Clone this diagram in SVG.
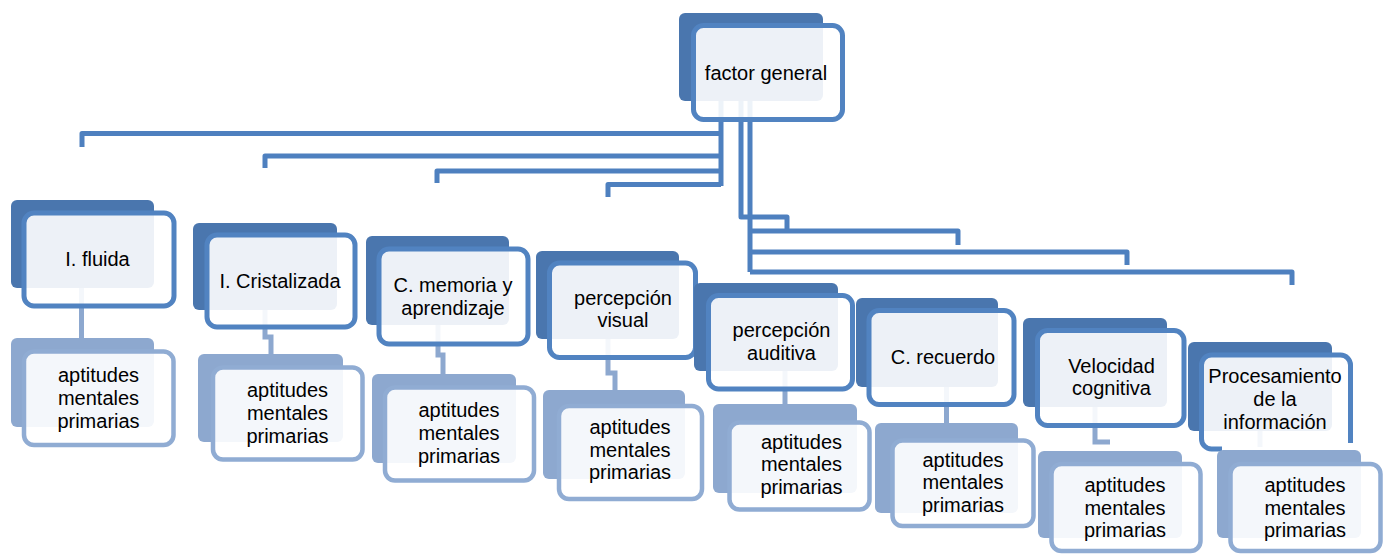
<svg xmlns="http://www.w3.org/2000/svg" width="1386" height="554" viewBox="0 0 1386 554">
  <style>
    .bk { fill: #4A76AE; }
    .fr { fill: #ffffff; fill-opacity: 0.9; stroke: #5183C1; stroke-width: 5; }
    .bk3 { fill: #8DA8CF; }
    .fr3 { fill: #ffffff; fill-opacity: 0.9; stroke: #90ACD3; stroke-width: 4.5; }
    .c2 { fill: none; stroke: #4E80BF; stroke-width: 5; stroke-linejoin: round; }
    .c3 { fill: none; stroke: #8DA8CF; stroke-width: 5; }
    text { font-family: "Liberation Sans", Arial, sans-serif; font-size: 20px; fill: #000000; text-anchor: middle; }
  </style>
  <rect width="1386" height="554" fill="#ffffff"/>

  <!-- connectors -->
  <g id="connectors">
    <path class="c2" d="M721,100 V186"/>
    <path class="c2" d="M721,133.5 H82 V147"/>
    <path class="c2" d="M721,156 H265 V168"/>
    <path class="c2" d="M721,171 H437 V183"/>
    <path class="c2" d="M721,184.5 H608 V197"/>
    <path class="c2" d="M741,100 V217 H787 V231"/>
    <path class="c2" d="M750,100 V272"/>
    <path class="c2" d="M750,231 H958 V245"/>
    <path class="c2" d="M750,252 H1127 V265"/>
    <path class="c2" d="M750,272 H1292 V285"/>

    <path class="c3" d="M81.5,288 V338"/>
    <path class="c3" d="M265,310 V337 H271 V354"/>
    <path class="c3" d="M438,325 V355 H443 V374"/>
    <path class="c3" d="M608,339 V373 H615 V390"/>
    <path class="c3" d="M785,371 V404"/>
    <path class="c3" d="M946.5,387 V423"/>
    <path class="c3" d="M1095,407 V442 H1110"/>
    <path class="c3" d="M1260,431 V447"/>
  </g>

  <!-- top level -->
  <g id="factor-general">
    <rect class="bk" x="679" y="13" width="144" height="88" rx="6"/>
    <rect class="fr" x="693.5" y="25.5" width="149" height="94" rx="10"/>
    <text x="766" y="80">factor general</text>
  </g>

  <!-- second level -->
  <g id="i-fluida">
    <rect class="bk" x="11" y="200" width="143" height="88" rx="6"/>
    <rect class="fr" x="24" y="213" width="150" height="93" rx="10"/>
    <text x="97.5" y="266">I. fluida</text>
  </g>
  <g id="i-cristalizada">
    <rect class="bk" x="193" y="223" width="144" height="87" rx="6"/>
    <rect class="fr" x="207" y="235" width="148" height="92" rx="10"/>
    <text x="280" y="287.5">I. Cristalizada</text>
  </g>
  <g id="c-memoria">
    <rect class="bk" x="366" y="236" width="143" height="89" rx="6"/>
    <rect class="fr" x="379" y="249" width="149" height="95" rx="10"/>
    <text x="453" y="292">C. memoria y</text>
    <text x="453" y="314.5">aprendizaje</text>
  </g>
  <g id="percepcion-visual">
    <rect class="bk" x="536" y="251" width="143" height="88" rx="6"/>
    <rect class="fr" x="549.5" y="263" width="146" height="94.5" rx="10"/>
    <text x="623" y="304.5">percepción</text>
    <text x="623" y="327">visual</text>
  </g>
  <g id="percepcion-auditiva">
    <rect class="bk" x="694" y="283" width="144" height="88" rx="6"/>
    <rect class="fr" x="708.5" y="295.5" width="144" height="93.5" rx="10"/>
    <text x="781.5" y="337">percepción</text>
    <text x="781.5" y="360">auditiva</text>
  </g>
  <g id="c-recuerdo">
    <rect class="bk" x="856" y="298" width="142" height="89" rx="6"/>
    <rect class="fr" x="869" y="310.5" width="145" height="94" rx="10"/>
    <text x="943" y="364">C. recuerdo</text>
  </g>
  <g id="velocidad-cognitiva">
    <rect class="bk" x="1023" y="318" width="144" height="89" rx="6"/>
    <rect class="fr" x="1037.5" y="330.5" width="146.5" height="95" rx="10"/>
    <text x="1111.5" y="372.5">Velocidad</text>
    <text x="1111.5" y="395">cognitiva</text>
  </g>
  <g id="procesamiento">
    <rect class="bk" x="1188" y="342" width="144" height="89" rx="6"/>
    <rect x="1201.5" y="355" width="149" height="94" rx="10" fill="#ffffff" fill-opacity="0.9"/>
    <path d="M1222,449 H1211.5 A10,10 0 0 1 1201.5,439 V365 A10,10 0 0 1 1211.5,355 H1340.5 A10,10 0 0 1 1350.5,365 V443" fill="none" stroke="#5183C1" stroke-width="5"/>
    <text x="1275" y="383">Procesamiento</text>
    <text x="1275" y="406">de la</text>
    <text x="1275" y="429">información</text>
  </g>

  <!-- third level -->
  <g id="aptitudes-1">
    <rect class="bk3" x="11" y="338" width="143" height="89" rx="6"/>
    <rect class="fr3" x="24" y="351.5" width="149.5" height="93.5" rx="10"/>
    <text x="98.5" y="382">aptitudes</text>
    <text x="98.5" y="405">mentales</text>
    <text x="98.5" y="427.5">primarias</text>
  </g>
  <g id="aptitudes-2">
    <rect class="bk3" x="198" y="354" width="145" height="88" rx="6"/>
    <rect class="fr3" x="213" y="367.5" width="149.5" height="92" rx="10"/>
    <text x="287.5" y="397">aptitudes</text>
    <text x="287.5" y="420">mentales</text>
    <text x="287.5" y="442.5">primarias</text>
  </g>
  <g id="aptitudes-3">
    <rect class="bk3" x="372" y="374" width="144" height="89" rx="6"/>
    <rect class="fr3" x="385" y="387.5" width="149" height="93" rx="10"/>
    <text x="459" y="417">aptitudes</text>
    <text x="459" y="440">mentales</text>
    <text x="459" y="462.5">primarias</text>
  </g>
  <g id="aptitudes-4">
    <rect class="bk3" x="543" y="390" width="142" height="89" rx="6"/>
    <rect class="fr3" x="559" y="406" width="143" height="93" rx="10"/>
    <text x="630" y="433.5">aptitudes</text>
    <text x="630" y="456.5">mentales</text>
    <text x="630" y="479">primarias</text>
  </g>
  <g id="aptitudes-5">
    <rect class="bk3" x="713" y="404" width="144" height="89" rx="6"/>
    <rect class="fr3" x="729.5" y="422.5" width="140" height="87" rx="10"/>
    <text x="801.5" y="448.5">aptitudes</text>
    <text x="801.5" y="471">mentales</text>
    <text x="801.5" y="493.5">primarias</text>
  </g>
  <g id="aptitudes-6">
    <rect class="bk3" x="875" y="423" width="143" height="90" rx="6"/>
    <rect class="fr3" x="892.5" y="440.5" width="141" height="85.5" rx="10"/>
    <text x="963" y="466.5">aptitudes</text>
    <text x="963" y="489">mentales</text>
    <text x="963" y="511.5">primarias</text>
  </g>
  <g id="aptitudes-7">
    <rect class="bk3" x="1038" y="451" width="144" height="87" rx="6"/>
    <rect class="fr3" x="1051.5" y="464" width="149" height="87" rx="10"/>
    <text x="1125" y="492">aptitudes</text>
    <text x="1125" y="515">mentales</text>
    <text x="1125" y="537">primarias</text>
  </g>
  <g id="aptitudes-8">
    <rect class="bk3" x="1217" y="450" width="144" height="88" rx="6"/>
    <rect class="fr3" x="1230.5" y="464" width="150" height="87" rx="10"/>
    <text x="1305" y="492">aptitudes</text>
    <text x="1305" y="515">mentales</text>
    <text x="1305" y="537">primarias</text>
  </g>
</svg>
